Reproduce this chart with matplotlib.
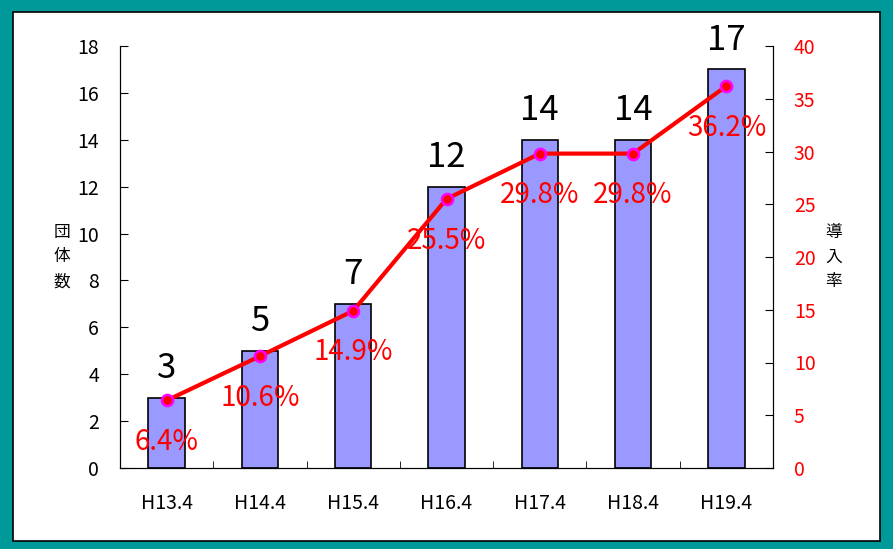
import matplotlib.pyplot as plt
import numpy as np
from matplotlib.patches import Rectangle

plt.rcParams['font.family'] = ['Noto Sans CJK JP', 'DejaVu Sans']

categories = ["H13.4", "H14.4", "H15.4", "H16.4", "H17.4", "H18.4", "H19.4"]
counts = [3, 5, 7, 12, 14, 14, 17]
rates = [6.4, 10.6, 14.9, 25.5, 29.8, 29.8, 36.2]

fig = plt.figure(figsize=(8.93, 5.49), dpi=100)

# teal frame with white panel inside
fig.patches.append(Rectangle((0, 0), 1, 1, transform=fig.transFigure,
                             facecolor='#009999', edgecolor='none', zorder=-10))
fig.patches.append(Rectangle((13 / 893, 8 / 549), 867 / 893, 529 / 549,
                             transform=fig.transFigure, facecolor='white',
                             edgecolor='black', linewidth=1.2, zorder=-9))

ax = fig.add_axes([120 / 893, 1 - 468 / 549, 653 / 893, 422 / 549])
ax.patch.set_alpha(0)
x = np.arange(len(categories))

ax.bar(x, counts, width=0.39, color='#9999FF', edgecolor='black', linewidth=1.2, zorder=2)
for xi, c in zip(x, counts):
    ax.annotate(str(c), (xi, c), xytext=(0, 21), textcoords='offset points',
                ha='center', va='center', fontsize=25, color='black')

ax.set_xlim(-0.5, len(categories) - 0.5)
ax.set_ylim(0, 18)
ax.set_yticks(range(0, 19, 2))
ax.set_xticks(x)
ax.set_xticklabels(categories)
ax.set_xticks(np.arange(-0.5, len(categories), 1), minor=True)
ax.tick_params(axis='x', which='major', length=0, pad=18, labelsize=14)
ax.tick_params(axis='x', which='minor', direction='in', length=5)
ax.tick_params(axis='y', direction='in', length=6, labelsize=14, pad=15)
ax.spines['top'].set_visible(False)
ax.set_ylabel("団\n体\n数", rotation=0, fontsize=12, labelpad=11, va='center', linespacing=1.6)

ax2 = ax.twinx()
ax2.plot(x, rates, color='red', linewidth=3, marker='o', markersize=8,
         markerfacecolor='red', markeredgecolor='magenta', markeredgewidth=1.8, zorder=3)
for xi, r in zip(x, rates):
    ax2.annotate(f"{r}%", (xi, r), xytext=(0, -30), textcoords='offset points',
                 ha='center', va='center', fontsize=20, color='red')
ax2.set_ylim(0, 40)
ax2.set_yticks(range(0, 41, 5))
ax2.tick_params(axis='y', direction='in', length=6, labelsize=14, labelcolor='red', pad=15)
ax2.spines['top'].set_visible(False)
ax2.set_ylabel("導\n入\n率", rotation=0, fontsize=12, labelpad=13, va='center', linespacing=1.6)

fig.savefig("out.png", dpi=100)
